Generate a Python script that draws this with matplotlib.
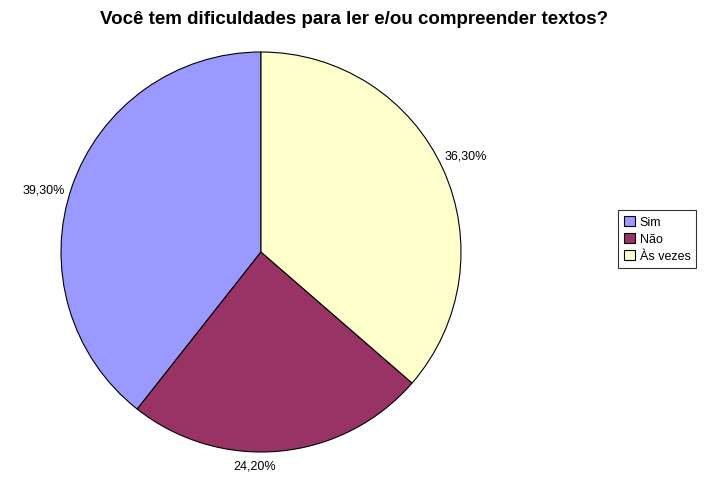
import matplotlib.pyplot as plt
import numpy as np

labels = ['Sim', 'Não', 'Às vezes']
values = [39.3, 24.2, 36.3]
pct_text = ['39,30%', '24,20%', '36,30%']
colors = ['#9999FF', '#993366', '#FFFFCC']

plt.rcParams['font.family'] = ['Liberation Sans', 'DejaVu Sans']

W, H = 709, 481
fig = plt.figure(figsize=(W / 100, H / 100), dpi=100)

# pie centred at (261, 253) px from top-left, radius 200 px
ax = fig.add_axes([61 / W, 28 / H, 400 / W, 400 / H])
wedges, texts = ax.pie(values, colors=colors, startangle=90, counterclock=True,
                       labels=pct_text, labeldistance=1.04,
                       wedgeprops=dict(edgecolor='black', linewidth=0.8),
                       textprops=dict(fontsize=9))
ax.set_xlim(-1, 1)
ax.set_ylim(-1, 1)
ax.set_aspect('auto')

# small nudges so the labels sit where excel put them
nudge = {'39,30%': (0.0, -0.03), '36,30%': (-0.03, 0.05), '24,20%': (-0.13, -0.03)}
for t in texts:
    x, y = t.get_position()
    dx, dy = nudge[t.get_text()]
    if abs(x) < 0.3:
        t.set_ha('center')
    t.set_position((x + dx, y + dy))

fig.text(0.5, 1 - 20 / H, 'Você tem dificuldades para ler e/ou compreender textos?',
         ha='center', va='center', fontsize=13.5, fontweight='bold')

leg = fig.legend(wedges, labels, loc='center left', bbox_to_anchor=(618 / W, 1 - 240 / H),
                 fontsize=9, frameon=True, fancybox=False, edgecolor='black',
                 handlelength=0.9, handleheight=0.9, handletextpad=0.4,
                 labelspacing=0.35, borderpad=0.45, borderaxespad=0)
leg.get_frame().set_linewidth(0.8)

fig.savefig('out.png', dpi=100)
